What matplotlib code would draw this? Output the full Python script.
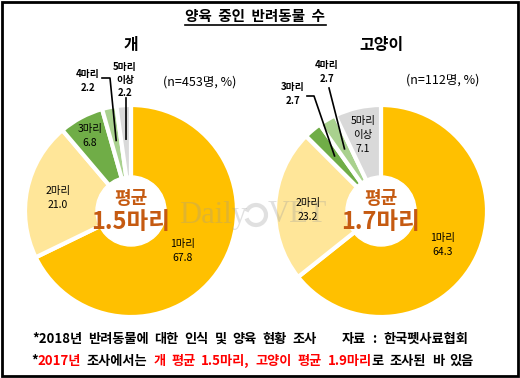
import numpy as np
import matplotlib
matplotlib.use("Agg")
import matplotlib.pyplot as plt
from matplotlib.patches import Circle, Rectangle, Arc

plt.rcParams['font.family'] = ['Noto Sans CJK KR', 'DejaVu Sans']

# ------------
# Data
# ------------
categories = ['1마리', '2마리', '3마리', '4마리', '5마리\n이상']
dog_values = [67.8, 21.0, 6.8, 2.2, 2.2]
cat_values = [64.3, 23.2, 2.7, 2.7, 7.1]
dog_mean = '1.5'
cat_mean = '1.7'
dog_n = '(n=453명, %)'
cat_n = '(n=112명, %)'
colors = ['#FFC000', '#FFE699', '#70AD47', '#A9D18E', '#D9D9D9']

W, H = 520, 378
fig = plt.figure(figsize=(5.2, 3.78), dpi=100)
ax = fig.add_axes([0, 0, 1, 1])
renderer = fig.canvas.get_renderer()


def Y(py):
    return H - py


def draw_pie(cx, cy, r, values, mean, inside, outside):
    wedges, _ = ax.pie(values, colors=colors, startangle=90, counterclock=False,
                       center=(cx, Y(cy)), radius=r, frame=True,
                       wedgeprops=dict(edgecolor='white', linewidth=3))
    # inside labels
    for i, (lx, ly) in inside.items():
        ax.text(lx, Y(ly), f"{categories[i]}\n{values[i]:.1f}", ha='center', va='center',
                fontsize=7.5, linespacing=1.45, color='black', zorder=5)
    # outside labels with leader lines
    for i, (lx, ly, path) in outside.items():
        w = wedges[i]
        mid = np.deg2rad((w.theta1 + w.theta2) / 2)
        ex = cx + 0.68 * r * np.cos(mid)
        ey = Y(cy) + 0.68 * r * np.sin(mid)
        xs = [p[0] for p in path] + [ex]
        ys = [Y(p[1]) for p in path] + [ey]
        ax.plot(xs, ys, color='black', lw=1.2, zorder=6)
        ax.text(lx, Y(ly), f"{categories[i]}\n{values[i]:.1f}", ha='center', va='center',
                fontsize=7, linespacing=1.4, fontweight='bold', zorder=5)
    # center hole
    ax.add_patch(Circle((cx, Y(cy)), 35, color='white', zorder=4))
    ax.text(cx, Y(cy - 12), '평균', ha='center', va='center', fontsize=13,
            fontweight='bold', color='#C55A11', zorder=7)
    ax.text(cx, Y(cy + 11), f'{mean}마리', ha='center', va='center', fontsize=17,
            fontweight='bold', color='#C55A11', zorder=7)


draw_pie(131, 211, 106, dog_values, dog_mean,
         inside={0: (183, 251), 1: (58, 198), 2: (90, 136)},
         outside={3: (88, 81, [(102, 78), (110, 78)]),
                  4: (125, 80, [(126, 98)])})
draw_pie(381, 211, 106, cat_values, cat_mean,
         inside={0: (443, 245), 1: (308, 210), 4: (363, 135)},
         outside={2: (293, 94, [(307, 96), (314, 96)]),
                  3: (327, 72, [(329, 88)])})

ax.set_xlim(0, W)
ax.set_ylim(0, H)
ax.set_aspect('auto')
ax.axis('off')

# watermark
wm = dict(family='Liberation Serif', fontsize=22, color='#9A9A9A', alpha=0.3,
          ha='center', va='center', zorder=3)
ax.text(213, Y(215), 'Daily', **wm)
ax.add_patch(Arc((256, Y(215)), 20, 20, theta1=200, theta2=520, lw=3, color='#9A9A9A',
                 alpha=0.3, zorder=3))
ax.text(297, Y(215), 'VET', **wm)

# titles
ax.text(255, Y(16), '양육  중인  반려동물  수', ha='center', va='center',
        fontsize=10.5, fontweight='bold')
ax.plot([185, 326], [Y(25), Y(25)], color='black', lw=1.2, zorder=10, clip_on=False)
ax.text(131, Y(45), '개', ha='center', va='center', fontsize=11.5, fontweight='bold')
ax.text(381, Y(45), '고양이', ha='center', va='center', fontsize=11.5, fontweight='bold')
ax.text(200, Y(82), dog_n, ha='center', va='center', fontsize=9)
ax.text(443, Y(80), cat_n, ha='center', va='center', fontsize=9)


def justified(parts, x0, x1, py, size=9.5):
    """parts: list of (text, color); words split on spaces, spread from x0 to x1"""
    words = []  # (word, color, space_before)
    for k, (s, c) in enumerate(parts):
        toks = s.split(' ')
        for j, tok in enumerate(toks):
            if tok == '':
                continue
            sp = j > 0 or (k > 0 and parts[k - 1][0].endswith(' ')) or s.startswith(' ')
            words.append((tok, c, sp and len(words) > 0))
    arts = [ax.text(0, Y(py), w, ha='left', va='center', fontsize=size,
                    fontweight='bold', color=c) for w, c, _ in words]
    widths = [a.get_window_extent(renderer).width for a in arts]
    ngap = sum(1 for w in words if w[2])
    gap = (x1 - x0 - sum(widths)) / max(ngap, 1)
    x = x0
    for a, wd, w in zip(arts, widths, words):
        if w[2]:
            x += gap
        a.set_x(x)
        x += wd


# footnotes
justified([('*2018년 반려동물에 대한 인식 및 양육 현황 조사', 'black')], 32, 317, 339)
justified([('자료 : 한국펫사료협회', 'black')], 342, 468, 339)
justified([('*', 'black'), ('2017년', '#FF0000'), (' 조사에서는 ', 'black'),
           ('개 평균 1.5마리, 고양이 평균 1.9마리', '#FF0000'),
           ('로 조사된 바 있음', 'black')], 31, 474, 361)

# frame
fig.patches.append(Rectangle((0.004, 0.005), 0.992, 0.99, transform=fig.transFigure,
                             fill=False, edgecolor='black', lw=2))

fig.savefig('out.png', dpi=100)
